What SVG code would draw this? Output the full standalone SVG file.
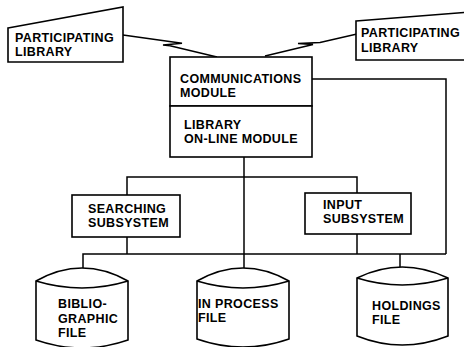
<svg xmlns="http://www.w3.org/2000/svg" width="464" height="347" viewBox="0 0 464 347">
<style>
.s{fill:#fff;stroke:#000;stroke-width:1.6;stroke-linejoin:miter}
.c{fill:none;stroke:#000;stroke-width:1.5}
.t{font-family:"Liberation Sans",Arial,sans-serif;font-weight:bold;font-size:12.5px;fill:#000;letter-spacing:0.35px}
</style>
<rect width="464" height="347" fill="#fff"/>
<g id="connectors">
<path class="c" d="M123,35 L182,43.3 L163,45 L170,45.7 L217,57"/>
<path class="c" d="M357,34 L320,42.5 L298,43.5 L313,44.5 L265,56"/>
<path class="c" d="M312,79 H446 V254"/>
<path class="c" d="M244,157 V268"/>
<path class="c" d="M127,195 V177 H357 V193"/>
<path class="c" d="M127,237 V254"/>
<path class="c" d="M357,234 V254"/>
<path class="c" d="M83,268 V254 H446"/>
<path class="c" d="M400,254 V267"/>
</g>
<g id="lib-left">
<path class="s" d="M8,28 L123,7 V62 H8 Z"/>
<text class="t" x="15" y="42">PARTICIPATING</text>
<text class="t" x="15" y="56">LIBRARY</text>
</g>
<g id="lib-right">
<path class="s" d="M356,21 L470,12 V60 H356 Z"/>
<text class="t" x="361" y="37">PARTICIPATING</text>
<text class="t" x="361" y="52">LIBRARY</text>
</g>
<g id="comm">
<rect class="s" x="170" y="57" width="142" height="49"/>
<text class="t" x="180" y="83">COMMUNICATIONS</text>
<text class="t" x="180" y="97">MODULE</text>
</g>
<g id="online">
<rect class="s" x="170" y="106" width="142" height="51"/>
<text class="t" x="184" y="129">LIBRARY</text>
<text class="t" x="184" y="143">ON-LINE MODULE</text>
</g>
<g id="search">
<rect class="s" x="72" y="195" width="108" height="42"/>
<text class="t" x="88" y="213">SEARCHING</text>
<text class="t" x="88" y="227">SUBSYSTEM</text>
</g>
<g id="input">
<rect class="s" x="305" y="193" width="106" height="41"/>
<text class="t" x="323" y="209">INPUT</text>
<text class="t" x="323" y="223">SUBSYSTEM</text>
</g>
<g id="biblio">
<path class="s" d="M36,281 Q82,255 128,281 V340 Q82,356 36,340 Z"/>
<path class="c" d="M36,281 Q82,295 128,281"/>
<text class="t" x="58" y="308">BIBLIO-</text>
<text class="t" x="58" y="323">GRAPHIC</text>
<text class="t" x="58" y="337">FILE</text>
</g>
<g id="inprocess">
<path class="s" d="M197,281 Q243,255 289,281 V339 Q243,355 197,339 Z"/>
<path class="c" d="M197,281 Q243,295 289,281"/>
<text class="t" x="198" y="308">IN PROCESS</text>
<text class="t" x="198" y="322">FILE</text>
</g>
<g id="holdings">
<path class="s" d="M357,278 Q402,256 448,278 V336 Q402,354 357,336 Z"/>
<path class="c" d="M357,278 Q402,292 448,278"/>
<text class="t" x="372" y="310">HOLDINGS</text>
<text class="t" x="372" y="324">FILE</text>
</g>
</svg>
